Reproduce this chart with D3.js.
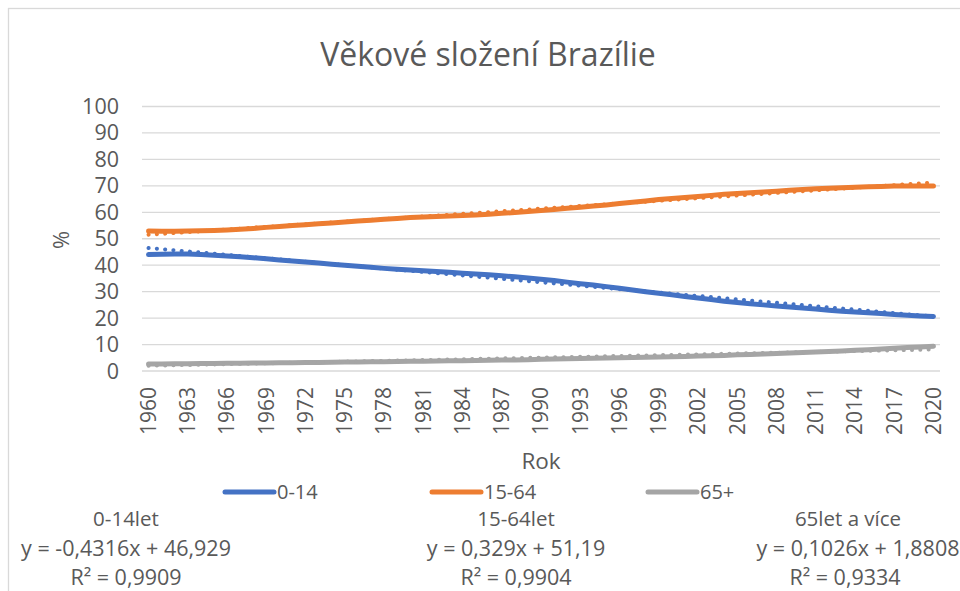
<!DOCTYPE html>
<html>
<head>
<meta charset="utf-8">
<script src="https://cdn.jsdelivr.net/npm/d3@7"></script>
<style>
  body { margin: 0; background: #fff; }
  svg { display: block; font-family: 'Open Sans', sans-serif; }
</style>
</head>
<body>
<div id="chart"></div>
<script>
// Roky a podíly věkových skupin (%)
const years = d3.range(1960, 2021);
const kids = [44.0, 44.1, 44.2, 44.2, 44.0, 43.8, 43.5, 43.2, 42.8, 42.4,
  42.0, 41.6, 41.2, 40.8, 40.4, 40.0, 39.6, 39.2, 38.8, 38.5,
  38.2, 37.9, 37.6, 37.3, 37.0, 36.7, 36.4, 36.0, 35.6, 35.2,
  34.7, 34.2, 33.6, 33.0, 32.5, 31.9, 31.3, 30.6, 30.0, 29.4,
  28.8, 28.2, 27.6, 27.0, 26.4, 25.9, 25.4, 25.0, 24.6, 24.2,
  23.8, 23.4, 23.0, 22.6, 22.3, 22.0, 21.7, 21.4, 21.1, 20.8, 20.6];
const work = [52.9, 52.8, 52.8, 52.9, 53.0, 53.1, 53.3, 53.6, 53.9, 54.3,
  54.6, 55.0, 55.3, 55.7, 56.0, 56.3, 56.7, 57.0, 57.4, 57.7,
  58.0, 58.2, 58.4, 58.6, 58.8, 59.0, 59.3, 59.6, 59.9, 60.3,
  60.7, 61.1, 61.5, 61.9, 62.4, 62.8, 63.3, 63.8, 64.3, 64.8,
  65.2, 65.6, 66.0, 66.4, 66.8, 67.1, 67.4, 67.7, 68.0, 68.3,
  68.6, 68.9, 69.1, 69.3, 69.5, 69.7, 69.8, 69.9, 69.9, 69.9, 69.9];
const old = [2.6, 2.6, 2.7, 2.7, 2.8, 2.8, 2.9, 2.9, 3.0, 3.0,
  3.1, 3.1, 3.2, 3.2, 3.3, 3.4, 3.4, 3.5, 3.5, 3.6,
  3.7, 3.7, 3.8, 3.9, 3.9, 4.0, 4.1, 4.2, 4.2, 4.3,
  4.4, 4.5, 4.6, 4.7, 4.8, 4.9, 5.0, 5.1, 5.2, 5.3,
  5.4, 5.5, 5.7, 5.8, 5.9, 6.1, 6.2, 6.4, 6.6, 6.8,
  7.0, 7.2, 7.4, 7.6, 7.8, 8.0, 8.3, 8.6, 8.9, 9.1, 9.4];

const seriesNames = ['0-14', '15-64', '65+'];
const seriesColors = ['#4472C4', '#ED7D31', '#A5A5A5'];
// Lineární trendy (x = 1..61)
const slopes = [-0.4316, 0.329, 0.1026];
const intercepts = [46.929, 51.19, 1.8808];
const trendTitles = ['0-14let', '15-64let', '65let a více'];
const trendEquations = ['y = -0,4316x + 46,929', 'y = 0,329x + 51,19', 'y = 0,1026x + 1,8808'];
const trendR2 = ['0,9909', '0,9904', '0,9334'];

const yTicks = d3.range(0, 101, 10);
const xTickYears = years.filter(y => (y - 1960) % 3 === 0);

const W = 960, H = 591;
const textColor = '#595959';
const gridColor = '#d9d9d9';

const svg = d3.select('#chart').append('svg')
  .attr('width', W)
  .attr('height', H);

// rámeček grafu
svg.append('rect')
  .attr('x', 8.5).attr('y', 8.5)
  .attr('width', 1000).attr('height', 700)
  .attr('fill', 'none')
  .attr('stroke', gridColor)
  .attr('stroke-width', 1.3);

const plot = { left: 142, right: 940, top: 106.5, bottom: 371 };

const x = d3.scaleBand()
  .domain(years)
  .range([plot.left, plot.right]);
const xc = yr => x(yr) + x.bandwidth() / 2;

const y = d3.scaleLinear()
  .domain([0, 100])
  .range([plot.bottom, plot.top]);

// Titulek
svg.append('text')
  .attr('x', 488).attr('y', 55)
  .attr('dy', '0.35em')
  .attr('text-anchor', 'middle')
  .attr('fill', textColor)
  .attr('font-size', '32px')
  .text('Věkové složení Brazílie');

// Mřížka
svg.append('g')
  .selectAll('line')
  .data(yTicks)
  .enter()
  .append('line')
  .attr('x1', plot.left).attr('x2', plot.right)
  .attr('y1', d => y(d)).attr('y2', d => y(d))
  .attr('stroke', gridColor)
  .attr('stroke-width', 1.3);

// Popisky osy Y
svg.append('g')
  .selectAll('text')
  .data(yTicks)
  .enter()
  .append('text')
  .attr('x', 119)
  .attr('y', d => y(d))
  .attr('dy', '0.35em')
  .attr('text-anchor', 'end')
  .attr('fill', textColor)
  .attr('font-size', '21.5px')
  .text(d => d);

// Popisky osy X (svisle)
svg.append('g')
  .selectAll('text')
  .data(xTickYears)
  .enter()
  .append('text')
  .attr('transform', d => `translate(${xc(d)}, 387) rotate(-90)`)
  .attr('dy', '0.35em')
  .attr('text-anchor', 'end')
  .attr('fill', textColor)
  .attr('font-size', '21px')
  .text(d => d);

// Názvy os
svg.append('text')
  .attr('x', 541).attr('y', 461)
  .attr('dy', '0.35em')
  .attr('text-anchor', 'middle')
  .attr('fill', textColor)
  .attr('font-size', '22.5px')
  .text('Rok');

svg.append('text')
  .attr('transform', 'translate(61, 240) rotate(-90)')
  .attr('dy', '0.35em')
  .attr('text-anchor', 'middle')
  .attr('fill', textColor)
  .attr('font-size', '22px')
  .text('%');

// Data řad
const seriesData = [kids, work, old];
const line = d3.line()
  .x((d, i) => xc(years[i]))
  .y(d => y(d));

seriesData.forEach((vals, s) => {
  svg.append('path')
    .datum(vals)
    .attr('d', line)
    .attr('fill', 'none')
    .attr('stroke', seriesColors[s])
    .attr('stroke-width', 5)
    .attr('stroke-linecap', 'round')
    .attr('stroke-linejoin', 'round');
});

// Spojnice trendu (tečkované)
seriesData.forEach((vals, s) => {
  const ends = [1, years.length];
  svg.append('path')
    .datum(ends)
    .attr('d', d3.line()
      .x(k => xc(years[k - 1]))
      .y(k => y(slopes[s] * k + intercepts[s])))
    .attr('fill', 'none')
    .attr('stroke', seriesColors[s])
    .attr('stroke-width', 4)
    .attr('stroke-linecap', 'round')
    .attr('stroke-dasharray', '0.1 8.2');
});

// Legenda
const legendX = [225, 432, 648];
seriesNames.forEach((name, s) => {
  const g = svg.append('g').attr('transform', `translate(${legendX[s]}, 492)`);
  g.append('line')
    .attr('x1', 0).attr('x2', 49)
    .attr('stroke', seriesColors[s])
    .attr('stroke-width', 5)
    .attr('stroke-linecap', 'round');
  g.append('text')
    .attr('x', 52)
    .attr('dy', '0.35em')
    .attr('fill', textColor)
    .attr('font-size', '20px')
    .text(name);
});

// Rovnice trendů
const eqX = [126, 516, 848];
trendTitles.forEach((t, s) => {
  const g = svg.append('g')
    .attr('text-anchor', 'middle')
    .attr('fill', textColor)
    .attr('font-size', '21.5px');
  g.append('text').attr('x', eqX[s]).attr('y', 519).attr('dy', '0.35em')
    .attr('font-size', '20.5px').text(t);
  g.append('text').attr('x', eqX[s] + (s === 2 ? 10 : 0)).attr('y', 548).attr('dy', '0.35em').text(trendEquations[s]);
  g.append('text').attr('x', eqX[s] - (s === 2 ? 3 : 0)).attr('y', 577).attr('dy', '0.35em')
    .text('R² = ' + trendR2[s]);
});
</script>
</body>
</html>
